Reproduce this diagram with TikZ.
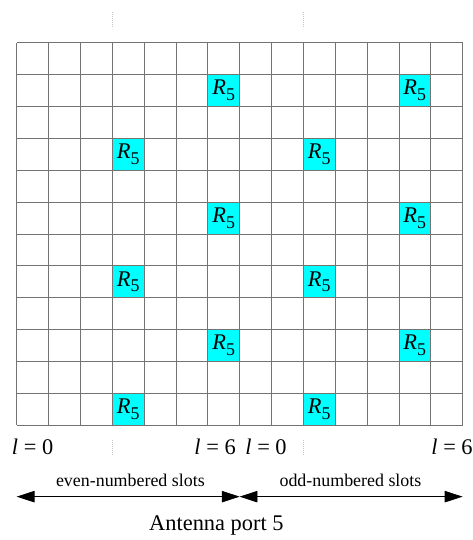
\documentclass[tikz,border=0pt]{standalone}
\usepackage{fontspec}
\setmainfont{LiberationSerif}[Extension=.ttf, UprightFont=*-Regular, ItalicFont=*-Italic,
  BoldFont=*-Bold, BoldItalicFont=*-BoldItalic]
\usetikzlibrary{positioning,arrows.meta}
\definecolor{ciano}{RGB}{0,255,255}

\tikzset{
  grade/.style={draw=gray!90!black, line width=0.6pt},
  celula/.style={draw=gray!90!black, line width=0.6pt, fill=ciano, minimum size=1cm,
    inner sep=0pt, font=\fontsize{20}{20}\selectfont},
  marca/.style={draw=gray!45, line width=0.6pt, dash pattern=on 1pt off 0.8pt},
  rotulo/.style={font=\fontsize{20}{22}\selectfont, inner sep=0pt},
  seta/.style={line width=0.6pt, {Triangle[length=5.6mm,width=3.6mm]}-{Triangle[length=5.6mm,width=3.6mm]}},
}
\newcommand{\rcinco}{\textit{R}\raisebox{-0.55ex}{\fontsize{16}{16}\selectfont 5}}

\begin{document}
\begin{tikzpicture}
    \useasboundingbox (-0.524,-3.611) rectangle (14.327,13.344);

    % Grade
    \draw[grade] (0,0) grid (14,12);

    % Sinais de referencia
    \foreach \y in {10.5,6.5,2.5}
      \foreach \x in {6.5,12.5}
        \node[celula] (r-\x-\y) at (\x,\y) {\rcinco};
    \foreach \y in {8.5,4.5,0.5}
      \foreach \x in {3.5,9.5}
        \node[celula] (r-\x-\y) at (\x,\y) {\rcinco};

    % Marcas
    \foreach \x in {3,9} {
      \draw[marca] (\x,12.5) -- (\x,13.0);
      \draw[marca] (\x,-0.47) -- (\x,-0.97);
    }

    % Simbolos
    \node[rotulo] (l0a) at (0.5,-0.69) {\textit{l} = 0};
    \node[rotulo] (l6a) at (6.23,-0.69) {\textit{l} = 6};
    \node[rotulo] (l0b) at (7.83,-0.69) {\textit{l} = 0};
    \node[rotulo] (l6b) at (13.67,-0.69) {\textit{l} = 6};

    % Slots
    \coordinate (esq) at (0,-2.25);
    \coordinate (meio) at (7,-2.25);
    \coordinate (dir) at (14,-2.25);
    \draw[seta] (esq) -- (meio);
    \draw[seta] (meio) -- (dir);
    \node[font=\fontsize{16}{18}\selectfont] (par) at (3.57,-1.73) {even-numbered slots};
    \node[font=\fontsize{16}{18}\selectfont] (impar) at (10.48,-1.73) {odd-numbered slots};

    % Porta
    \node[rotulo] (porta) at (6.27,-3.17) {Antenna port 5};
\end{tikzpicture}
\end{document}
